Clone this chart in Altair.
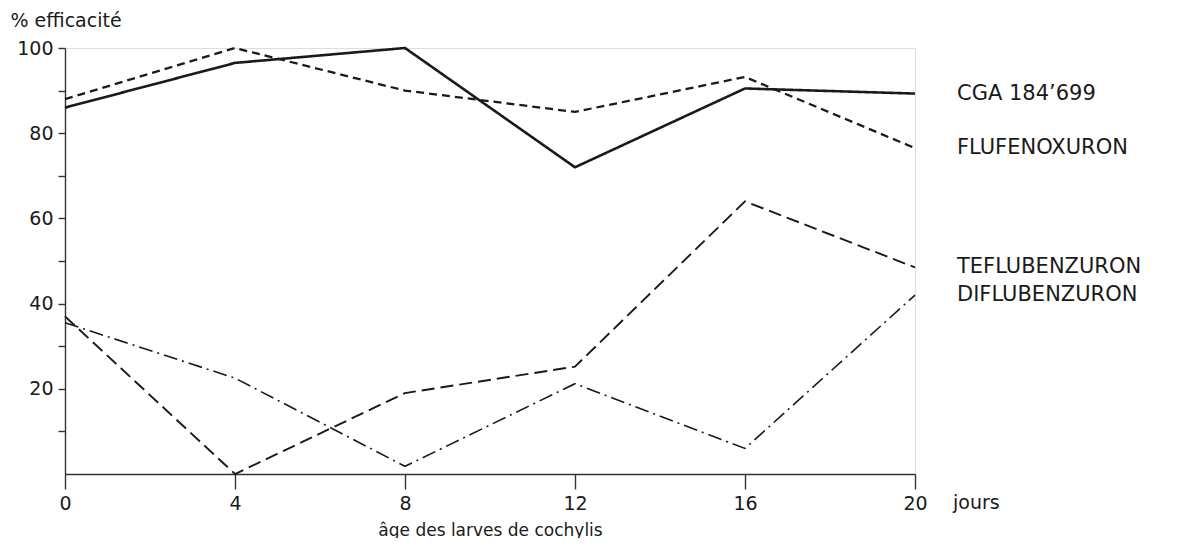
import altair as alt
import pandas as pd

days = [0, 4, 8, 12, 16, 20]
series_names = ["CGA 184\u2019699", "FLUFENOXURON", "TEFLUBENZURON", "DIFLUBENZURON"]
cga = [86, 96.5, 100, 72, 90.5, 89.3]
fluf = [88, 100, 90, 85, 93.2, 76.5]
tef = [37, 0, 19, 25.2, 64, 48.5]
dif = [35.5, 22.5, 1.8, 21.2, 6, 42]
x_ticks = [0, 4, 8, 12, 16, 20]
y_ticks = [10, 20, 30, 40, 50, 60, 70, 80, 90, 100]
unit_label = ["jours"]

values = [cga, fluf, tef, dif]
rows = []
for name, vals in zip(series_names, values):
    for d, v in zip(days, vals):
        rows.append({"jour": d, "eff": v, "serie": name})
df = pd.DataFrame(rows)
end_df = pd.DataFrame({"serie": series_names, "jour": [days[-1]] * 4, "eff": [v[-1] for v in values]})
unit_df = pd.DataFrame({"jour": [days[-1]], "eff": [0], "txt": unit_label})

FONT = "DejaVu Sans"
INK = "#1a1a1a"

xs = alt.Scale(domain=[0, 20], nice=False, zero=False)
ys = alt.Scale(domain=[0, 100], nice=False)

lines = alt.Chart(df).mark_line(color=INK, strokeJoin="miter").encode(
    x=alt.X("jour:Q", scale=xs, axis=alt.Axis(
        values=x_ticks, tickSize=15, labelPadding=5, labelFlush=False,
        title="âge des larves de cochylis", titleY=56, titleBaseline="middle",
        titleFontSize=17, titleFont=FONT, titleFontWeight="normal", titleColor=INK,
        labelFont=FONT, labelFontSize=19, labelColor=INK, grid=False,
        domainColor="#333", tickColor="#333", domainWidth=1.4, tickWidth=1.4)),
    y=alt.Y("eff:Q", scale=ys, axis=alt.Axis(
        values=y_ticks, labelExpr="datum.value % 20 == 0 ? datum.label : ''",
        tickSize=7, labelPadding=5, labelFlush=False,
        title="% efficacité", titleAngle=0, titleX=-55, titleY=-28,
        titleAlign="left", titleBaseline="middle",
        titleFontSize=19, titleFont=FONT, titleFontWeight="normal", titleColor=INK,
        labelFont=FONT, labelFontSize=19, labelColor=INK, grid=False,
        domainColor="#333", tickColor="#333", domainWidth=1.4, tickWidth=1.4)),
    strokeDash=alt.StrokeDash("serie:N", scale=alt.Scale(
        domain=series_names, range=[[1, 0], [8, 5], [13, 6], [14, 5, 2, 5]]), legend=None),
    strokeWidth=alt.StrokeWidth("serie:N", scale=alt.Scale(
        domain=series_names, range=[2.6, 1.6, 1.6, 1.6]), legend=None),
    detail="serie:N",
)

labels = alt.Chart(end_df).mark_text(
    align="left", baseline="middle", dx=42, font=FONT, fontSize=21, color=INK
).encode(x=alt.X("jour:Q", scale=xs), y=alt.Y("eff:Q", scale=ys), text="serie:N")

unit = alt.Chart(unit_df).mark_text(
    align="left", baseline="middle", dx=38, dy=29, font=FONT, fontSize=19, color=INK
).encode(x=alt.X("jour:Q", scale=xs), y=alt.Y("eff:Q", scale=ys), text="txt:N")

chart = alt.layer(lines, labels, unit).properties(
    width=850, height=426,
    padding={"left": 57, "top": 40, "right": 258, "bottom": 64},
    autosize=alt.AutoSizeParams(type="none"),
).configure_view(stroke=None).configure(background="white")

chart.save("out.html", embed_options={"renderer": "svg", "actions": False})
